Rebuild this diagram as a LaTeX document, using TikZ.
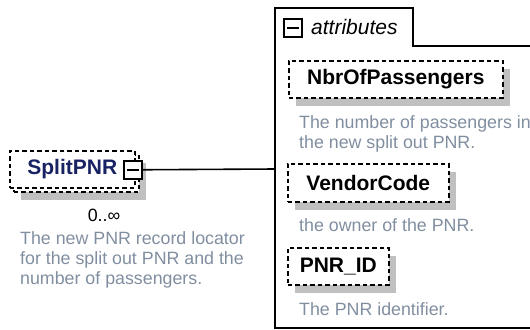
\documentclass[tikz,border=0pt]{standalone}
\usepackage{fontspec}
\setmainfont{Liberation Sans}
\usepackage{xcolor}
\usepackage{tikz}
\usetikzlibrary{shadows}

\definecolor{elemnavy}{RGB}{25,35,100}
\definecolor{descgray}{RGB}{128,142,160}
\definecolor{shadowgray}{RGB}{192,192,192}

\tikzset{
  elembox/.style={draw, line width=1.6bp, dash pattern=on 4.5bp off 3bp, fill=white,
    inner sep=0pt, anchor=north west, font=\fontsize{21bp}{24bp}\bfseries\selectfont},
  withshadow/.style={general shadow={draw=none, fill=shadowgray, shadow xshift=7bp, shadow yshift=-8bp}},
  toggle/.style={draw, line width=1.5bp, fill=white, minimum size=18bp, inner sep=0pt, anchor=north west,
    path picture={\draw[line width=1.5bp] ([xshift=3bp]path picture bounding box.west)
      -- ([xshift=-3bp]path picture bounding box.east);}},
  desc/.style={anchor=north west, align=left, inner sep=0pt, text=descgray,
    font=\fontsize{17.8bp}{20bp}\selectfont},
}

\begin{document}
\begin{tikzpicture}[x=1bp, y=-1bp]
  \useasboundingbox (0,0) rectangle (530,329);
  % the repeated element on the left, two stacked boxes
  \node[elembox, withshadow, minimum width=125bp, minimum height=37bp] (splitback) at (13,154) {};
  \node[elembox, minimum width=125bp, minimum height=37bp, text=elemnavy] (split) at (9,150) {SplitPNR\hspace{16bp}};
  \node[toggle] (splittoggle) at (123,160) {};
  \node[anchor=center, inner sep=0pt, font=\fontsize{17.8bp}{20bp}\selectfont] (splitocc) at (104,215) {0..∞};
  \node[desc] (splitdesc) at (20,231) {The new PNR record locator\\for the split out PNR and the\\number of passengers.};
  % attribute group with its tab
  \draw[line width=1.6bp] (531,46) -- (413,46) -- (413,8) -- (275,8) -- (275,328) -- (531,328);
  \coordinate (attrin) at (275,169);
  \node[toggle] (attrtoggle) at (283,18) {};
  \node[anchor=west, inner sep=0pt, font=\fontsize{21bp}{24bp}\itshape\selectfont] (attrlabel) at (311,27) {attributes};
  \draw[line width=1.6bp] (splittoggle.east) -- (attrin);
  \node[elembox, withshadow, minimum width=214bp, minimum height=37bp] (nbr) at (288,60) {NbrOfPassengers};
  \node[desc] (nbrdesc) at (299,115) {The number of passengers in\\the new split out PNR.};
  \node[elembox, withshadow, minimum width=161bp, minimum height=38bp] (vendor) at (287,163) {VendorCode};
  \node[desc] (vendordesc) at (299,218) {the owner of the PNR.};
  \node[elembox, withshadow, minimum width=101bp, minimum height=37bp] (pnrid) at (287,247) {PNR\_ID};
  \node[desc] (pnriddesc) at (299,302) {The PNR identifier.};
\end{tikzpicture}
\end{document}
